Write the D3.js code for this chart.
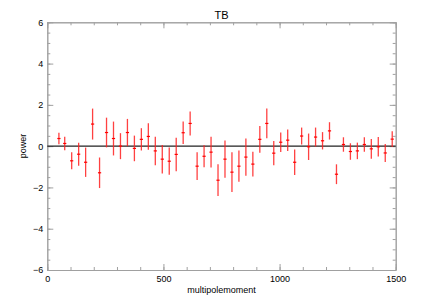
<!DOCTYPE html>
<html>
<head>
<meta charset="utf-8">
<script src="https://cdn.jsdelivr.net/npm/d3@7"></script>
<style>
body { margin: 0; background: white; }
svg { font-family: "Liberation Sans", Arial, sans-serif; }
</style>
</head>
<body>
<svg></svg>
<script>
var width = 429, height = 300;

// multipole bins
var ell = [50, 75, 105, 135, 165, 195, 225, 255, 285, 315, 345, 375, 405, 435, 465,
    495, 525, 555, 585, 615, 645, 675, 705, 735, 765, 795, 825, 855, 885, 915,
    945, 975, 1005, 1035, 1065, 1095, 1125, 1155, 1185, 1215, 1245, 1275, 1305,
    1335, 1365, 1395, 1425, 1455, 1485];
// TB power
var power = [0.37, 0.13, -0.71, -0.39, -0.78, 1.07, -1.29, 0.66, 0.37, 0.0,
    0.66, -0.11, 0.33, 0.47, -0.23, -0.63, -0.73, -0.40, 0.65, 1.10,
    -0.97, -0.49, -0.29, -1.65, -0.63, -1.26, -0.97, -0.53, -0.87, 0.33,
    1.10, -0.34, 0.19, 0.29, -0.78, 0.49, -0.03, 0.44, 0.26, 0.74,
    -1.36, 0.08, -0.26, -0.23, 0.08, -0.13, -0.03, -0.33, 0.34];
// 1-sigma errors
var err = [0.28, 0.33, 0.41, 0.56, 0.71, 0.75, 0.74, 0.72, 0.82, 0.63,
    0.66, 0.62, 0.54, 0.64, 0.69, 0.69, 0.66, 0.81, 0.55, 0.58,
    0.67, 0.53, 0.74, 0.77, 0.90, 0.96, 0.76, 0.90, 0.60, 0.65,
    0.72, 0.59, 0.47, 0.52, 0.62, 0.41, 0.64, 0.46, 0.42, 0.42,
    0.48, 0.35, 0.40, 0.40, 0.35, 0.48, 0.47, 0.44, 0.38];

var xTicks = [0, 500, 1000, 1500];
var yTicks = [-6, -4, -2, 0, 2, 4, 6];

var data = ell.map(function(l, i) {
    return {l: l, p: power[i], e: err[i]};
});

var svg = d3.select("svg")
    .attr("width", width)
    .attr("height", height);

var x = d3.scaleLinear().domain([0, 1500]).range([47.3, 395.7]);
var y = d3.scaleLinear().domain([-6, 6]).range([270, 22.3]);

function styleAxis(g) {
    g.selectAll("path").attr("stroke", "#a0a0a0");
    g.selectAll("line").attr("stroke", "#a0a0a0");
    g.selectAll("text").attr("fill", "#000").style("font-size", "9px");
}

// minor ticks
svg.append("g").attr("transform", "translate(0,270)")
    .call(d3.axisBottom(x).tickValues(d3.range(0, 1501, 100)).tickSize(-3).tickFormat("").tickSizeOuter(0))
    .call(styleAxis);
svg.append("g").attr("transform", "translate(0,22.3)")
    .call(d3.axisTop(x).tickValues(d3.range(0, 1501, 100)).tickSize(-3).tickFormat("").tickSizeOuter(0))
    .call(styleAxis);
svg.append("g").attr("transform", "translate(47.3,0)")
    .call(d3.axisLeft(y).tickValues(d3.range(-6, 6.01, 0.5)).tickSize(-3).tickFormat("").tickSizeOuter(0))
    .call(styleAxis);
svg.append("g").attr("transform", "translate(395.7,0)")
    .call(d3.axisRight(y).tickValues(d3.range(-6, 6.01, 0.5)).tickSize(-3).tickFormat("").tickSizeOuter(0))
    .call(styleAxis);

// major ticks + labels
svg.append("g").attr("transform", "translate(0,270)")
    .call(d3.axisBottom(x).tickValues(xTicks).tickSize(-6).tickSizeOuter(0).tickPadding(6).tickFormat(d3.format("d")))
    .call(styleAxis);
svg.append("g").attr("transform", "translate(0,22.3)")
    .call(d3.axisTop(x).tickValues(xTicks).tickSize(-6).tickSizeOuter(0).tickFormat(""))
    .call(styleAxis);
svg.append("g").attr("transform", "translate(47.3,0)")
    .call(d3.axisLeft(y).tickValues(yTicks).tickSize(-6).tickSizeOuter(0).tickPadding(4)
        .tickFormat(function(d) { return d < 0 ? "\u2212" + Math.abs(d) : d; }))
    .call(styleAxis);
svg.append("g").attr("transform", "translate(395.7,0)")
    .call(d3.axisRight(y).tickValues(yTicks).tickSize(-6).tickSizeOuter(0).tickFormat(""))
    .call(styleAxis);

// zero line
svg.append("line")
    .attr("x1", x(0)).attr("x2", x(1500))
    .attr("y1", y(0)).attr("y2", y(0))
    .attr("stroke", "#222")
    .attr("stroke-width", 1.2);

// error bars
svg.selectAll(".bar")
    .data(data)
    .enter().append("line")
    .attr("class", "bar")
    .attr("x1", function(d) { return x(d.l); })
    .attr("x2", function(d) { return x(d.l); })
    .attr("y1", function(d) { return y(d.p + d.e); })
    .attr("y2", function(d) { return y(d.p - d.e); })
    .attr("stroke", "#ff2020")
    .attr("stroke-opacity", 0.85)
    .attr("stroke-width", 1.3);

// central points (plus)
svg.selectAll(".pt")
    .data(data)
    .enter().append("line")
    .attr("class", "pt")
    .attr("x1", function(d) { return x(d.l) - 1.6; })
    .attr("x2", function(d) { return x(d.l) + 1.6; })
    .attr("y1", function(d) { return y(d.p); })
    .attr("y2", function(d) { return y(d.p); })
    .attr("stroke", "#ff0000")
    .attr("stroke-width", 1.2);

// title and axis labels
svg.append("text")
    .attr("x", 221.5).attr("y", 19)
    .attr("text-anchor", "middle")
    .style("font-size", "11px")
    .text("TB");

svg.append("text")
    .attr("x", 221.5).attr("y", 293)
    .attr("text-anchor", "middle")
    .style("font-size", "9px")
    .text("multipolemoment");

svg.append("text")
    .attr("transform", "translate(25.5,146) rotate(-90)")
    .attr("text-anchor", "middle")
    .style("font-size", "9px")
    .text("power");
</script>
</body>
</html>
